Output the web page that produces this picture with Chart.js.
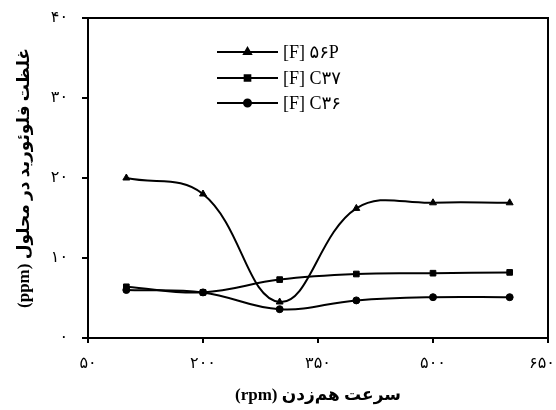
<!DOCTYPE html>
<html>
<head>
<meta charset="utf-8">
<script src="https://cdn.jsdelivr.net/npm/chart.js@4/dist/chart.umd.min.js"></script>
<style>
html, body { margin: 0; padding: 0; background: #fff; }
#wrap { width: 556px; height: 410px; }
</style>
</head>
<body>
<div id="wrap"><canvas id="myChart"></canvas></div>
<script>
// stirring speed (rpm)
var speeds = [100, 200, 300, 400, 500, 600];
// fluoride concentration (ppm)
var f56P = [20, 18, 4.5, 16.2, 16.9, 16.9];
var fC37 = [6.4, 5.7, 7.3, 8.0, 8.1, 8.2];
var fC36 = [6.0, 5.7, 3.6, 4.7, 5.1, 5.1];
var seriesNames = ['[F] ۵۶P', '[F] C۳۷', '[F] C۳۶'];
var xTickValues = [50, 200, 350, 500, 650];
var xTickLabels = ['۵۰', '۲۰۰', '۳۵۰', '۵۰۰', '۶۵۰'];
var yTickValues = [0, 10, 20, 30, 40];
var yTickLabels = ['۰', '۱۰', '۲۰', '۳۰', '۴۰'];

var persianFont = '"Liberation Serif", "DejaVu Sans", serif';

function toPoints(vals) {
    return speeds.map(function (s, i) { return { x: s, y: vals[i] }; });
}

function series(name, vals, style, r) {
    return {
        label: name,
        data: toPoints(vals),
        borderColor: '#000',
        backgroundColor: '#000',
        borderWidth: 2,
        pointStyle: style,
        pointRadius: r,
        pointBorderWidth: 1,
        tension: 0.4,
        fill: false
    };
}

// box around plot + legend drawn inside the plot
var boxAndLegend = {
    id: 'boxAndLegend',
    afterDraw: function (chart) {
        var ctx = chart.ctx;
        var a = chart.chartArea;
        ctx.save();
        ctx.strokeStyle = '#000';
        ctx.lineWidth = 2;
        ctx.strokeRect(a.left, a.top, a.right - a.left, a.bottom - a.top);

        var x0 = a.left + 129, x1 = a.left + 190;
        var rows = [a.top + 34, a.top + 60, a.top + 85];
        chart.data.datasets.forEach(function (ds, i) {
            var y = rows[i];
            ctx.beginPath();
            ctx.moveTo(x0, y);
            ctx.lineTo(x1, y);
            ctx.lineWidth = 2;
            ctx.strokeStyle = '#000';
            ctx.stroke();
            ctx.fillStyle = '#000';
            Chart.helpers.drawPoint(ctx, { pointStyle: ds.pointStyle, radius: ds.pointRadius, borderWidth: 1 }, (x0 + x1) / 2, y);
            ctx.fill();
            ctx.font = '18px ' + persianFont;
            ctx.textBaseline = 'middle';
            ctx.textAlign = 'left';
            ctx.fillText(ds.label, x1 + 5, y + 1);
        });
        ctx.restore();
    }
};

var ctx = document.getElementById('myChart').getContext('2d');
var myChart = new Chart(ctx, {
    type: 'line',
    data: {
        datasets: [
            series(seriesNames[0], f56P, 'triangle', 4),
            series(seriesNames[1], fC37, 'rect', 4),
            series(seriesNames[2], fC36, 'circle', 3.5)
        ]
    },
    options: {
        responsive: true,
        maintainAspectRatio: false,
        animation: false,
        layout: { padding: { top: 18, right: 8, left: 0, bottom: 0 } },
        plugins: {
            legend: { display: false },
            tooltip: { enabled: false }
        },
        scales: {
            x: {
                type: 'linear',
                min: 50,
                max: 650,
                afterBuildTicks: function (scale) {
                    scale.ticks = xTickValues.map(function (v) { return { value: v }; });
                },
                afterFit: function (scale) {
                    scale.height = 72;
                    scale.paddingLeft = 0;
                    scale.paddingRight = 0;
                },
                ticks: {
                    color: '#000',
                    padding: 11,
                    maxRotation: 0,
                    font: { size: 16, family: persianFont },
                    callback: function (v) {
                        var i = xTickValues.indexOf(v);
                        if (i < 0) return '';
                        // last label sits a little inside the frame
                        return i === xTickValues.length - 1 ? xTickLabels[i] + '\u00A0\u00A0\u00A0' : xTickLabels[i];
                    }
                },
                grid: { drawOnChartArea: false, color: '#000', lineWidth: 2, tickLength: 5 },
                border: { color: '#000', width: 2 },
                title: {
                    display: true,
                    text: '\u202Bسرعت هم‌زدن (rpm)\u202C',
                    color: '#000',
                    font: { size: 17, weight: 'bold', family: persianFont },
                    padding: { top: 6 }
                }
            },
            y: {
                min: 0,
                max: 40,
                afterBuildTicks: function (scale) {
                    scale.ticks = yTickValues.map(function (v) { return { value: v }; });
                },
                afterFit: function (scale) {
                    scale.width = 88;
                    scale.paddingTop = 0;
                    scale.paddingBottom = 0;
                },
                ticks: {
                    color: '#000',
                    padding: 14,
                    font: { size: 16, family: persianFont },
                    callback: function (v) {
                        var i = yTickValues.indexOf(v);
                        return i >= 0 ? yTickLabels[i] : '';
                    }
                },
                grid: { drawOnChartArea: false, color: '#000', lineWidth: 2, tickLength: 6 },
                border: { color: '#000', width: 2 },
                title: {
                    display: true,
                    text: '\u202Bغلظت فلوئورید در محلول (ppm)\u202C',
                    color: '#000',
                    font: { size: 17, weight: 'bold', family: persianFont },
                    padding: { bottom: 0, top: 14 }
                }
            }
        }
    },
    plugins: [boxAndLegend]
});
</script>
</body>
</html>
